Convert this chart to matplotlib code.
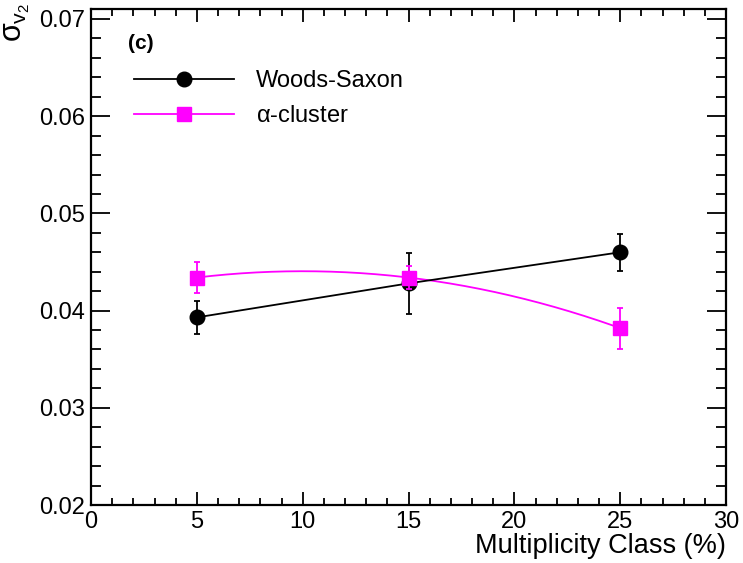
import numpy as np
import matplotlib
matplotlib.use("Agg")
import matplotlib.pyplot as plt
from matplotlib.ticker import MultipleLocator
from matplotlib.lines import Line2D

plt.rcParams['font.family'] = ['Liberation Sans', 'DejaVu Sans']
plt.rcParams['mathtext.fontset'] = 'custom'
plt.rcParams['mathtext.rm'] = 'Liberation Sans'
plt.rcParams['mathtext.it'] = 'Liberation Sans'

# dados
mult_class = [5, 15, 25]
ws_sigma = [0.0393, 0.0428, 0.0460]
ws_err = [0.0017, 0.0031, 0.0019]
alpha_sigma = [0.0434, 0.0434, 0.0382]
alpha_err = [0.0016, 0.0012, 0.0021]

fig = plt.figure(figsize=(7.43, 5.63), dpi=100)
ax = fig.add_axes([91 / 743, 58 / 563, 635 / 743, 496 / 563])

# Woods-Saxon: linha reta entre pontos
ax.errorbar(mult_class, ws_sigma, yerr=ws_err, color='black', marker='o',
            markersize=10.5, lw=1.3, elinewidth=1.3, capsize=2.5, capthick=1.3,
            zorder=3)

# alpha-cluster: curva suave (como opcao "C" do ROOT)
coef = np.polyfit(mult_class, alpha_sigma, 2)
xs = np.linspace(mult_class[0], mult_class[-1], 200)
ax.plot(xs, np.polyval(coef, xs), color='magenta', lw=1.3, zorder=2)
ax.errorbar(mult_class, alpha_sigma, yerr=alpha_err, color='magenta', marker='s',
            markersize=10, ls='none', elinewidth=1.3, capsize=2.5, capthick=1.3,
            zorder=4)

ax.set_xlim(0, 30)
ax.set_ylim(0.02, 0.07 + 10 / 9740)
ax.xaxis.set_major_locator(MultipleLocator(5))
ax.xaxis.set_minor_locator(MultipleLocator(1))
ax.yaxis.set_major_locator(MultipleLocator(0.01))
ax.yaxis.set_minor_locator(MultipleLocator(0.002))
ax.yaxis.set_major_formatter(plt.FuncFormatter(lambda v, p: f'{v:.2f}'))

ax.tick_params(which='both', direction='in', top=True, right=True,
               labelsize=17, width=1.3, pad=4)
ax.tick_params(axis='x', which='major', length=9.5)
ax.tick_params(axis='x', which='minor', length=5)
ax.tick_params(axis='y', which='major', length=14)
ax.tick_params(axis='y', which='minor', length=7)
for s in ax.spines.values():
    s.set_linewidth(1.6)

ax.set_xlabel('Multiplicity Class (%)', fontsize=19.5, loc='right', labelpad=0)
fig.text(17 / 743, 1 - 22 / 563, r'$\sigma_{v_2}$', fontsize=22, rotation=90,
         ha='center', va='center')

ax.text(0.058, 0.931, '(c)', transform=ax.transAxes, fontsize=15,
        fontweight='bold', va='center')

handles = [
    Line2D([], [], color='black', marker='o', markersize=10.5, lw=1.3),
    Line2D([], [], color='magenta', marker='s', markersize=10, lw=1.3),
]
ax.legend(handles, ['Woods-Saxon', r'$\alpha$-cluster'], loc='upper left',
          bbox_to_anchor=(0.0335, 0.92), frameon=False, fontsize=17,
          handlelength=4.24, handletextpad=0.93, labelspacing=0.57)

fig.savefig('out.png', dpi=100)
